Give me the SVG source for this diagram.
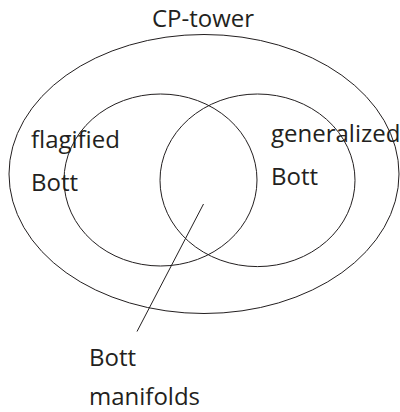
<svg xmlns="http://www.w3.org/2000/svg" width="400" height="412" viewBox="0 0 400 412">
<style>
.s{fill:none;stroke:#231f20;stroke-width:1}
.t{font-family:"Open Sans","Noto Sans",sans-serif;font-size:24px;fill:#231f20}
</style>
<rect width="400" height="412" fill="#fff"/>
<g id="cp-tower">
<ellipse class="s" cx="204" cy="174" rx="195" ry="139.5"/>
<text class="t" x="152" y="27">CP-tower</text>
</g>
<g id="flagified">
<ellipse class="s" cx="160.5" cy="180" rx="96.5" ry="86"/>
<text class="t" x="31" y="147.5">flagified</text>
<text class="t" x="31" y="190.5">Bott</text>
</g>
<g id="generalized">
<ellipse class="s" cx="257.5" cy="180.3" rx="97.5" ry="86.3"/>
<text class="t" x="271" y="141.5">generalized</text>
<text class="t" x="271" y="184.5">Bott</text>
</g>
<g id="connectors">
<line class="s" x1="203.5" y1="204" x2="137" y2="331.5"/>
</g>
<g id="bott-manifolds">
<text class="t" x="89" y="366">Bott</text>
<text class="t" x="89" y="405">manifolds</text>
</g>
</svg>
